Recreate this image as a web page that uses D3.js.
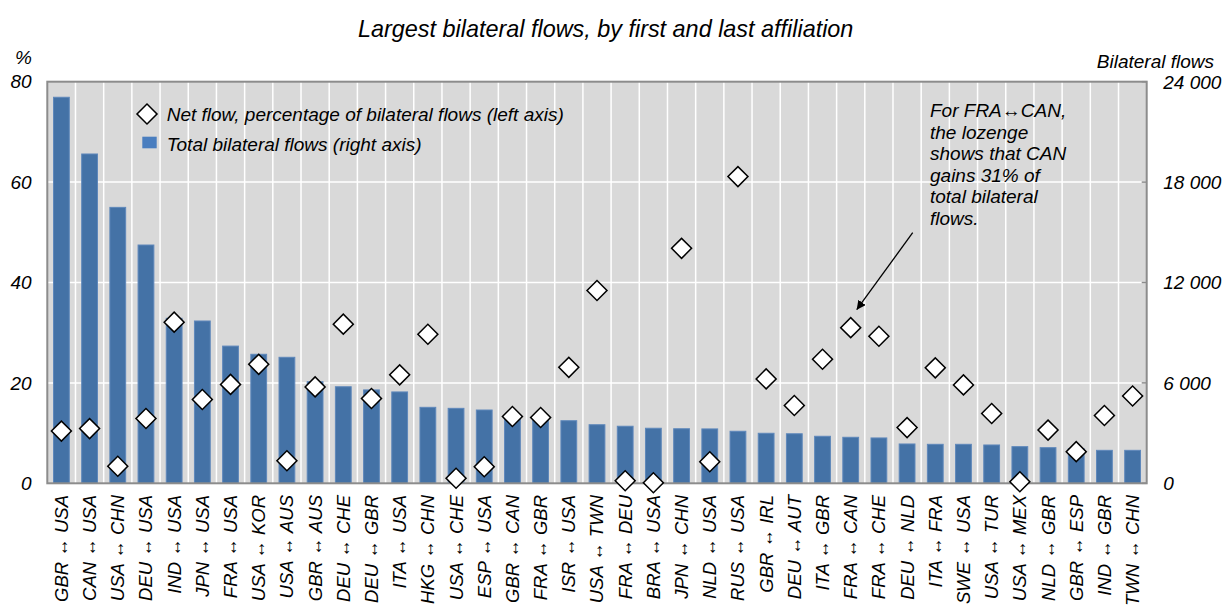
<!DOCTYPE html>
<html>
<head>
<meta charset="utf-8">
<script src="https://cdn.jsdelivr.net/npm/d3@7"></script>
<style>
  body { margin: 0; background: #fff; }
  svg { display: block; font-family: 'Liberation Sans', Arial, sans-serif; }
</style>
</head>
<body>
<div id="chart"></div>
<script>
const categories = [
  'GBR ↔ USA', 'CAN ↔ USA', 'USA ↔ CHN', 'DEU ↔ USA', 'IND ↔ USA', 'JPN ↔ USA', 'FRA ↔ USA',
  'USA ↔ KOR', 'USA ↔ AUS', 'GBR ↔ AUS', 'DEU ↔ CHE', 'DEU ↔ GBR', 'ITA ↔ USA', 'HKG ↔ CHN',
  'USA ↔ CHE', 'ESP ↔ USA', 'GBR ↔ CAN', 'FRA ↔ GBR', 'ISR ↔ USA', 'USA ↔ TWN', 'FRA ↔ DEU',
  'BRA ↔ USA', 'JPN ↔ CHN', 'NLD ↔ USA', 'RUS ↔ USA', 'GBR ↔ IRL', 'DEU ↔ AUT', 'ITA ↔ GBR',
  'FRA ↔ CAN', 'FRA ↔ CHE', 'DEU ↔ NLD', 'ITA ↔ FRA', 'SWE ↔ USA', 'USA ↔ TUR', 'USA ↔ MEX',
  'NLD ↔ GBR', 'GBR ↔ ESP', 'IND ↔ GBR', 'TWN ↔ CHN'
]

// total bilateral flows (right axis)
const totalFlows = [
  23070, 19680, 16490, 14240, 9860, 9700, 8200, 7710, 7530, 6070, 5770, 5580, 5460, 4540,
  4480, 4380, 3960, 3900, 3740, 3500, 3410, 3290, 3260, 3250, 3110, 2990, 2960, 2810,
  2750, 2710, 2350, 2330, 2330, 2290, 2190, 2130, 2070, 1970, 1970
]

// net flow, % of bilateral flows (left axis)
const netFlowPct = [
  10.4, 10.9, 3.4, 12.9, 32.1, 16.7, 19.7, 23.7, 4.5, 19.2, 31.7, 16.9, 21.6, 29.7,
  1.0, 3.3, 13.3, 13.1, 23.1, 38.4, 0.5, 0.1, 46.8, 4.3, 61.1, 20.8, 15.5, 24.7,
  31.0, 29.3, 11.1, 23.0, 19.6, 13.9, 0.3, 10.6, 6.3, 13.5, 17.4
]

const leftTicks = [0, 20, 40, 60, 80]
const rightTicks = [0, 6000, 12000, 18000, 24000]

const width = 1224, height = 606
const plot = { left: 47.3, right: 1146.7, top: 81.7, bottom: 483.3 }

const svg = d3.select('#chart')
  .append('svg')
  .attr('width', width)
  .attr('height', height)

const x = d3.scaleBand()
  .domain(categories)
  .range([plot.left, plot.right])
  .paddingInner(0.44)
  .paddingOuter(0.22)

const yLeft = d3.scaleLinear().domain([0, 80]).range([plot.bottom, plot.top])
const yRight = d3.scaleLinear().domain([0, 24000]).range([plot.bottom, plot.top])

const fmt = d => d3.format(',')(d).replace(/,/g, ' ')

// fond de la zone de tracé
svg.append('rect')
  .attr('x', plot.left)
  .attr('y', plot.top)
  .attr('width', plot.right - plot.left)
  .attr('height', plot.bottom - plot.top)
  .attr('fill', '#d9d9d9')

// horizontal gridlines
svg.append('g')
  .selectAll('line')
  .data(leftTicks.slice(1, -1))
  .join('line')
  .attr('x1', plot.left)
  .attr('x2', plot.right)
  .attr('y1', d => yLeft(d))
  .attr('y2', d => yLeft(d))
  .attr('stroke', '#fff')
  .attr('stroke-width', 1.5)

// vertical gridlines between categories
svg.append('g')
  .selectAll('line')
  .data(categories.slice(1))
  .join('line')
  .attr('x1', d => x(d) - x.step() * x.paddingInner() / 2)
  .attr('x2', d => x(d) - x.step() * x.paddingInner() / 2)
  .attr('y1', plot.top)
  .attr('y2', plot.bottom)
  .attr('stroke', '#fff')
  .attr('stroke-width', 1.5)

// bars
svg.append('g')
  .selectAll('rect')
  .data(totalFlows)
  .join('rect')
  .attr('x', (d, i) => x(categories[i]))
  .attr('y', d => yRight(d))
  .attr('width', x.bandwidth())
  .attr('height', d => plot.bottom - yRight(d))
  .attr('fill', '#4472a6')
  .attr('stroke', '#5f88bb')
  .attr('stroke-width', 1)

// frame
svg.append('rect')
  .attr('x', plot.left)
  .attr('y', plot.top)
  .attr('width', plot.right - plot.left)
  .attr('height', plot.bottom - plot.top)
  .attr('fill', 'none')
  .attr('stroke', '#8c8c8c')
  .attr('stroke-width', 2)

// small tick marks on the right axis
svg.append('g')
  .selectAll('line')
  .data(rightTicks)
  .join('line')
  .attr('x1', plot.right - 5)
  .attr('x2', plot.right)
  .attr('y1', d => yRight(d))
  .attr('y2', d => yRight(d))
  .attr('stroke', '#8c8c8c')
  .attr('stroke-width', 1.5)

// diamonds
const diamond = d3.symbol().type(d3.symbolSquare).size(200)
svg.append('g')
  .selectAll('path')
  .data(netFlowPct)
  .join('path')
  .attr('d', diamond)
  .attr('transform', (d, i) => `translate(${x(categories[i]) + x.bandwidth() / 2},${yLeft(d)}) rotate(45)`)
  .attr('fill', '#fff')
  .attr('stroke', '#000')
  .attr('stroke-width', 1.5)

// left axis labels
svg.append('g')
  .selectAll('text')
  .data(leftTicks)
  .join('text')
  .attr('x', 31.7)
  .attr('y', d => yLeft(d))
  .attr('dy', '0.35em')
  .attr('text-anchor', 'end')
  .attr('font-size', '19px')
  .attr('font-style', 'italic')
  .attr('fill', '#000')
  .text(d => d)

svg.append('text')
  .attr('x', 15)
  .attr('y', 64)
  .attr('font-size', '19px')
  .attr('font-style', 'italic')
  .text('%')

// right axis labels
svg.append('g')
  .selectAll('text')
  .data(rightTicks)
  .join('text')
  .attr('x', 1163.3)
  .attr('y', d => yRight(d))
  .attr('dy', '0.36em')
  .attr('font-size', '19px')
  .attr('font-style', 'italic')
  .text(d => fmt(d))

svg.append('text')
  .attr('x', 1214)
  .attr('y', 68.3)
  .attr('text-anchor', 'end')
  .attr('font-size', '19px')
  .attr('font-style', 'italic')
  .text('Bilateral flows')

// category labels
svg.append('g')
  .selectAll('text')
  .data(categories)
  .join('text')
  .attr('transform', d => `translate(${x(d) + x.bandwidth() / 2},495) rotate(-90)`)
  .attr('text-anchor', 'end')
  .attr('dy', '0.35em')
  .attr('font-size', '18.5px')
  .attr('font-style', 'italic')
  .text(d => d)

// title
svg.append('text')
  .attr('x', 605.7)
  .attr('y', 36.5)
  .attr('text-anchor', 'middle')
  .attr('font-size', '23.4px')
  .attr('font-style', 'italic')
  .text('Largest bilateral flows, by first and last affiliation')

// legend
const legend = svg.append('g').attr('transform', 'translate(147,114)')
legend.append('path')
  .attr('d', diamond)
  .attr('transform', 'rotate(45)')
  .attr('fill', '#fff')
  .attr('stroke', '#000')
  .attr('stroke-width', 1.5)
legend.append('text')
  .attr('x', 19.7)
  .attr('dy', '0.35em')
  .attr('font-size', '19px')
  .attr('font-style', 'italic')
  .text('Net flow, percentage of bilateral flows (left axis)')
legend.append('rect')
  .attr('x', -4.7)
  .attr('y', 22.7)
  .attr('width', 14.4)
  .attr('height', 11.6)
  .attr('fill', '#4a7ebf')
legend.append('text')
  .attr('x', 19.7)
  .attr('y', 30.5)
  .attr('dy', '0.35em')
  .attr('font-size', '19px')
  .attr('font-style', 'italic')
  .text('Total bilateral flows (right axis)')

// annotation
const noteIdx = categories.indexOf('FRA ↔ CAN')
const noteX = x(categories[noteIdx]) + x.bandwidth() / 2
const noteY = yLeft(netFlowPct[noteIdx])

svg.append('defs').append('marker')
  .attr('id', 'arrowhead')
  .attr('viewBox', '0 0 10 10')
  .attr('refX', 10)
  .attr('refY', 5)
  .attr('markerWidth', 9)
  .attr('markerHeight', 9)
  .attr('markerUnits', 'userSpaceOnUse')
  .attr('orient', 'auto')
  .append('path')
  .attr('d', 'M0,0 L10,5 L0,10 Z')
  .attr('fill', '#000')

svg.append('line')
  .attr('x1', noteX + 62)
  .attr('y1', noteY - 95)
  .attr('x2', noteX + 6)
  .attr('y2', noteY - 18)
  .attr('stroke', '#000')
  .attr('stroke-width', 1.3)
  .attr('marker-end', 'url(#arrowhead)')

const noteLines = ['For FRA↔CAN,', 'the lozenge', 'shows that CAN', 'gains 31% of', 'total bilateral', 'flows.']
svg.append('text')
  .attr('font-size', '19px')
  .attr('font-style', 'italic')
  .selectAll('tspan')
  .data(noteLines)
  .join('tspan')
  .attr('x', 930)
  .attr('y', (d, i) => 117 + i * 21.6)
  .text(d => d)
</script>
</body>
</html>
